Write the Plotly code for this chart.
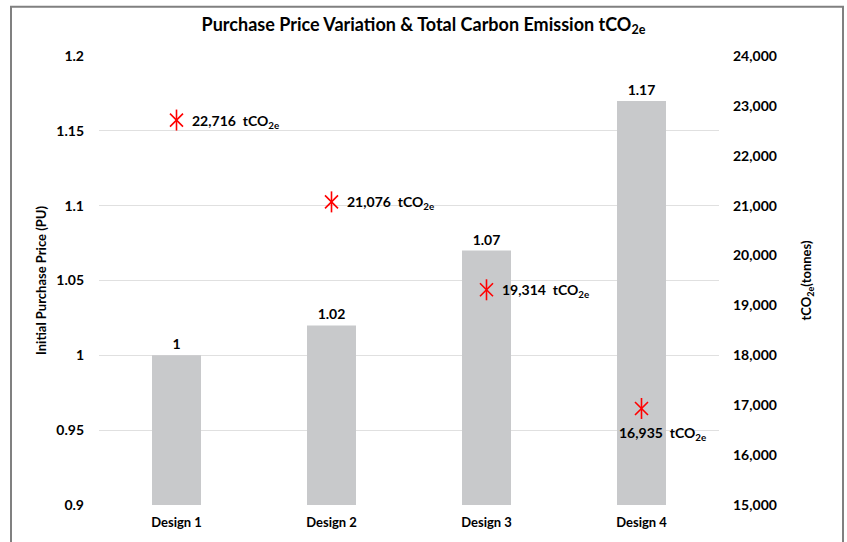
import plotly.graph_objects as go

categories = ["Design 1", "Design 2", "Design 3", "Design 4"]
price_pu = [1.0, 1.02, 1.07, 1.17]
price_labels = ["1", "1.02", "1.07", "1.17"]
emissions = [22716, 21076, 19314, 16935]
emission_labels = ["22,716", "21,076", "19,314", "16,935"]
left_ticks = [0.9, 0.95, 1.0, 1.05, 1.1, 1.15, 1.2]
left_ticktext = ["0.9", "0.95", "1", "1.05", "1.1", "1.15", "1.2"]
right_ticks = [15000, 16000, 17000, 18000, 19000, 20000, 21000, 22000, 23000, 24000]

FONT = "Lato"
fig = go.Figure()

fig.add_trace(go.Bar(
    x=categories, y=price_pu, base=0,
    marker=dict(color="#c8c9cb", line=dict(width=0)),
    text=[f"<b>{t}</b>" for t in price_labels], textposition="outside",
    textfont=dict(family=FONT, size=14, color="#000000"),
    cliponaxis=False, showlegend=False, hoverinfo="skip",
))

fig.add_trace(go.Scatter(
    x=categories, y=emissions, yaxis="y2", mode="markers",
    marker=dict(symbol="x-thin-open", size=13, color="#ff0000", line=dict(color="#ff0000", width=1.6)),
    showlegend=False, hoverinfo="skip",
))
fig.add_trace(go.Scatter(
    x=categories, y=emissions, yaxis="y2", mode="markers",
    marker=dict(symbol="line-ns-open", size=15, color="#ff0000", line=dict(color="#ff0000", width=1.6)),
    showlegend=False, hoverinfo="skip",
))

for i, (c, v, lab) in enumerate(zip(categories, emissions, emission_labels)):
    if i < 3:
        fig.add_annotation(x=c, y=v, xref="x", yref="y2", text=f"<b>{lab}  tCO<sub>2e</sub></b>",
                           showarrow=False, xanchor="left", yanchor="middle", xshift=13, yshift=-1,
                           font=dict(family=FONT, size=14, color="#000000"))
    else:
        fig.add_annotation(x=c, y=v, xref="x", yref="y2", text=f"<b>{lab}  tCO<sub>2e</sub></b>",
                           showarrow=False, xanchor="left", yanchor="top", xshift=-25, yshift=-14,
                           font=dict(family=FONT, size=14, color="#000000"))

fig.update_layout(
    width=847, height=542,
    margin=dict(l=99, r=128, t=56, b=35),
    paper_bgcolor="white", plot_bgcolor="white",
    bargap=0.684,
    title=dict(text="<b>Purchase Price Variation &amp; Total Carbon Emission tCO<sub>2e</sub></b>",
               x=0.5, xanchor="center", y=0.955, yanchor="middle",
               font=dict(family=FONT, size=18, color="#000000")),
    xaxis=dict(showgrid=False, showline=False, ticks="",
               tickvals=categories, ticktext=[f"<b>{c}</b>" for c in categories],
               tickfont=dict(family=FONT, size=13, color="#000000"),
               ticklabelstandoff=8),
    yaxis=dict(range=[0.9, 1.2], tickvals=left_ticks, ticktext=[f"<b>{t}</b>" for t in left_ticktext],
               showgrid=True, gridcolor="#e0e0e0", gridwidth=1, zeroline=False,
               tickfont=dict(family=FONT, size=14, color="#000000"),
               ticklabelstandoff=14,
               title=dict(text="<b>Initial Purchase Price (PU)</b>", standoff=6,
                          font=dict(family=FONT, size=13, color="#000000"))),
    yaxis2=dict(range=[15000, 24000], tickvals=right_ticks, overlaying="y", side="right",
                ticktext=[f"<b>{t:,}</b>" for t in right_ticks],
                showgrid=False, zeroline=False,
                tickfont=dict(family=FONT, size=14, color="#000000"),
                ticklabelstandoff=13,
                title=dict(text="<b>tCO<sub>2e</sub>(tonnes)</b>", standoff=26,
                           font=dict(family=FONT, size=13, color="#000000"))),
    font=dict(family=FONT),
)

fig.add_shape(type="rect", xref="paper", yref="paper",
              x0=(11 - 99) / 620, x1=(843 - 99) / 620,
              y0=-0.2, y1=(507 - 6.5) / 451,
              line=dict(color="#808080", width=2), fillcolor="rgba(0,0,0,0)", layer="below")

fig.write_html("out.html", config={"displayModeBar": False},
               post_script="document.body.style.margin='0';document.body.style.padding='0';")
